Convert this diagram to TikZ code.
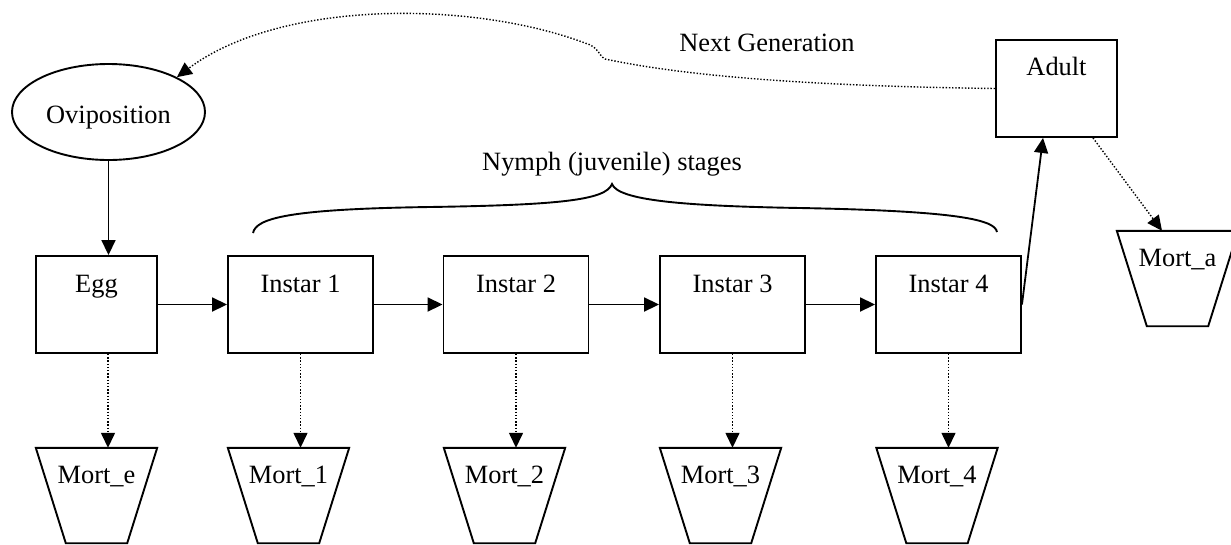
\documentclass[tikz,border=0pt]{standalone}
\usepackage{fontspec}
\setmainfont{Liberation Serif}
\usetikzlibrary{arrows.meta,shapes.geometric}
\begin{document}
\begin{tikzpicture}[x=1pt,y=-1pt,
  every node/.style={font=\fontsize{26.4}{31}\selectfont},
  outline/.style={line width=1.9pt},
  box/.style={draw, outline, minimum width=#1, minimum height=97pt, inner sep=0pt},
  box/.default=145pt,
  oval/.style={draw, outline, ellipse, minimum width=193pt, minimum height=96pt, inner sep=0pt},
  mort/.style={minimum width=121pt, minimum height=95pt, inner sep=0pt},
  txt/.style={inner sep=0pt, anchor=base},
  arr/.style={line width=1.8pt, -{Triangle[length=15pt,width=14pt]}},
  darr/.style={line width=1.4pt, dash pattern=on 1.4pt off 1.8pt, -{Triangle[length=15pt,width=14pt]}}
]
\useasboundingbox (0,0) rectangle (1231,544);
\clip (0,0) rectangle (1231,544);

% Oviposition
\node[oval] (ov) at (108.5,112) {};
\node[txt] (ovt) at (108.5,123) {Oviposition};

% stage boxes
\node[box=121pt] (egg) at (96.5,304.5) {};
\node[txt] (eggt) at (96.5,292) {Egg};
\node[box] (i1) at (300.5,304.5) {};
\node[txt] (i1t) at (300.5,292) {Instar 1};
\node[box] (i2) at (516,304.5) {};
\node[txt] (i2t) at (516,292) {Instar 2};
\node[box] (i3) at (732.5,304.5) {};
\node[txt] (i3t) at (732.5,292) {Instar 3};
\node[box] (i4) at (948.5,304.5) {};
\node[txt] (i4t) at (948.5,292) {Instar 4};
\node[box=121pt] (adult) at (1056.5,88.5) {};
\node[txt] (adultt) at (1056.5,75) {Adult};

% mortality trapezoids
\foreach \n/\x/\y/\t in {me/96.5/495.5/Mort\_e, m1/288.5/495.5/Mort\_1, m2/504.5/495.5/Mort\_2,
                          m3/720.5/495.5/Mort\_3, m4/937/495.5/Mort\_4, ma/1177.5/278.5/Mort\_a}{
  \node[mort] (\n) at (\x,\y) {};
  \draw[outline] (\n.north west) -- (\n.north east) -- ([xshift=-30pt]\n.south east)
        -- ([xshift=30pt]\n.south west) -- cycle;
  \node[txt] (\n t) at ([yshift=-35.5pt]\n.north) {\t};
}

% labels
\node[txt] (ng) at (767,51) {Next Generation};
\node[txt] (nym) at (612,170) {Nymph (juvenile) stages};

% brace
\draw[outline] (253,233) .. controls (256,218) and (290,209) .. (430,207)
  .. controls (560,205) and (606,200) .. (612,184)
  .. controls (618,200) and (680,206) .. (800,208)
  .. controls (960,211) and (995,220) .. (997,232);

% solid arrows
\draw[arr] (ov.south) -- (ov.south |- egg.north);
\draw[arr] (egg.east) -- (i1.west);
\draw[arr] (i1.east) -- (i2.west);
\draw[arr] (i2.east) -- (i3.west);
\draw[arr] (i3.east) -- (i4.west);
\draw[arr] (i4.east) -- ([xshift=-13.5pt]adult.south);

% mortality arrows
\draw[darr] ([xshift=11.5pt]egg.south) -- ([xshift=11.5pt]egg.south |- me.north);
\draw[darr] (i1.south) -- (i1.south |- m1.north);
\draw[darr] (i2.south) -- (i2.south |- m2.north);
\draw[darr] (i3.south) -- (i3.south |- m3.north);
\draw[darr] (i4.south) -- (i4.south |- m4.north);
\draw[darr] ([xshift=36.5pt]adult.south) -- ([xshift=-15.5pt]ma.north);

% next generation loop
\draw[darr] (adult.west) .. controls (800,86) and (680,75) .. (605,59)
  .. controls (598,55) and (599,47) .. (585,43)
  .. controls (470,0) and (280,0) .. (ov.27);
\end{tikzpicture}
\end{document}
